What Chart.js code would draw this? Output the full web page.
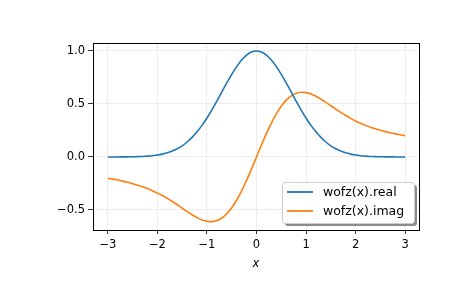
<!DOCTYPE html>
<html>
<head>
<meta charset="utf-8">
<script src="https://cdn.jsdelivr.net/npm/chart.js@4.4.1/dist/chart.umd.min.js"></script>
<style>
  html, body { margin: 0; padding: 0; background: #fff; }
  #wrap { width: 465px; height: 288px; }
</style>
</head>
<body>
<div id="wrap"><canvas id="c" width="465" height="288"></canvas></div>
<script>
// ─── Data ────────────────────────────────────────────────
const xs = [-3, -2.9, -2.8, -2.7, -2.6, -2.5, -2.4, -2.3, -2.2, -2.1, -2, -1.9, -1.8, -1.7, -1.6,
  -1.5, -1.4, -1.3, -1.2, -1.1, -1, -0.9, -0.8, -0.7, -0.6, -0.5, -0.4, -0.3, -0.2, -0.1,
  0, 0.1, 0.2, 0.3, 0.4, 0.5, 0.6, 0.7, 0.8, 0.9, 1, 1.1, 1.2, 1.3, 1.4, 1.5, 1.6, 1.7, 1.8,
  1.9, 2, 2.1, 2.2, 2.3, 2.4, 2.5, 2.6, 2.7, 2.8, 2.9, 3];
const realVals = [0.000, 0.000, 0.000, 0.001, 0.001, 0.002, 0.003, 0.005, 0.008, 0.012, 0.018,
  0.027, 0.039, 0.056, 0.077, 0.105, 0.141, 0.185, 0.237, 0.298, 0.368, 0.445, 0.527, 0.613,
  0.698, 0.779, 0.852, 0.914, 0.961, 0.990, 1.000, 0.990, 0.961, 0.914, 0.852, 0.779, 0.698,
  0.613, 0.527, 0.445, 0.368, 0.298, 0.237, 0.185, 0.141, 0.105, 0.077, 0.056, 0.039, 0.027,
  0.018, 0.012, 0.008, 0.005, 0.003, 0.002, 0.001, 0.001, 0.000, 0.000, 0.000];
const imagVals = [-0.201, -0.209, -0.218, -0.228, -0.239, -0.252, -0.266, -0.281, -0.298, -0.318,
  -0.340, -0.364, -0.391, -0.420, -0.451, -0.483, -0.515, -0.545, -0.572, -0.594, -0.607,
  -0.610, -0.600, -0.576, -0.536, -0.479, -0.406, -0.319, -0.220, -0.112, 0.000, 0.112, 0.220,
  0.319, 0.406, 0.479, 0.536, 0.576, 0.600, 0.610, 0.607, 0.594, 0.572, 0.545, 0.515, 0.483,
  0.451, 0.420, 0.391, 0.364, 0.340, 0.318, 0.298, 0.281, 0.266, 0.252, 0.239, 0.228, 0.218,
  0.209, 0.201];
const xTicks = [-3, -2, -1, 0, 1, 2, 3];
const yTicks = [-0.5, 0, 0.5, 1.0];
const seriesLabels = ['wofz(x).real', 'wofz(x).imag'];

const BLUE = '#1f77b4';
const ORANGE = '#ff7f0e';
const FONT = "'DejaVu Sans', sans-serif";

const fmt = (v, d) => (v < 0 ? '\u2212' : '') + Math.abs(v).toFixed(d);

// frame round the plot area
const framePlugin = {
  id: 'frame',
  afterDraw(chart) {
    const { ctx, chartArea: a } = chart;
    ctx.save();
    ctx.strokeStyle = '#000';
    ctx.lineWidth = 1;
    ctx.strokeRect(Math.round(a.left) + 0.5, Math.round(a.top) + 0.5,
      Math.round(a.right - a.left), Math.round(a.bottom - a.top));
    ctx.restore();
  }
};

// matplotlib-style legend in the lower right corner
const legendPlugin = {
  id: 'boxLegend',
  afterDraw(chart) {
    const { ctx, chartArea: a } = chart;
    const w = 132, h = 41;
    const x = a.right - 5 - w, y = a.bottom - 7 - h;
    ctx.save();
    ctx.fillStyle = 'rgba(0,0,0,0.45)';
    roundRect(ctx, x + 3, y + 3, w, h, 3); ctx.fill();
    ctx.fillStyle = '#fff';
    ctx.strokeStyle = '#cccccc';
    ctx.lineWidth = 1;
    roundRect(ctx, x + 0.5, y + 0.5, w, h, 3); ctx.fill(); ctx.stroke();
    ctx.font = '12.5px ' + FONT;
    ctx.textBaseline = 'middle';
    chart.data.datasets.forEach((ds, i) => {
      const ly = y + 10 + i * 19;
      ctx.strokeStyle = ds.borderColor;
      ctx.lineWidth = 1.8;
      ctx.beginPath(); ctx.moveTo(x + 5, ly); ctx.lineTo(x + 31, ly); ctx.stroke();
      ctx.fillStyle = '#000';
      ctx.fillText(ds.label, x + 41, ly + 1);
    });
    ctx.restore();
  }
};

function roundRect(ctx, x, y, w, h, r) {
  ctx.beginPath();
  ctx.moveTo(x + r, y);
  ctx.arcTo(x + w, y, x + w, y + h, r);
  ctx.arcTo(x + w, y + h, x, y + h, r);
  ctx.arcTo(x, y + h, x, y, r);
  ctx.arcTo(x, y, x + w, y, r);
  ctx.closePath();
}

const toPoints = vals => xs.map((x, i) => ({ x, y: vals[i] }));

new Chart(document.getElementById('c'), {
  type: 'line',
  data: {
    datasets: [
      { label: seriesLabels[0], data: toPoints(realVals), borderColor: BLUE, borderWidth: 1.6,
        pointRadius: 0, tension: 0.2 },
      { label: seriesLabels[1], data: toPoints(imagVals), borderColor: ORANGE, borderWidth: 1.6,
        pointRadius: 0, tension: 0.2 }
    ]
  },
  options: {
    responsive: false,
    animation: false,
    events: [],
    layout: { padding: { left: 0, right: 46, top: 43, bottom: 17 } },
    plugins: { legend: { display: false }, tooltip: { enabled: false } },
    scales: {
      x: {
        type: 'linear', min: -3.3, max: 3.28,
        afterBuildTicks: s => { s.ticks = xTicks.map(v => ({ value: v })); },
        afterFit: s => { s.height = 41; },
        grid: { color: '#e8e8e8', tickColor: '#000', tickLength: 4, lineWidth: 0.8 },
        border: { color: '#000' },
        ticks: { color: '#000', font: { family: FONT, size: 11.5 }, padding: 4,
          maxRotation: 0, callback: v => fmt(v, 0) },
        title: { display: true, text: 'x', color: '#000', padding: { top: 0, bottom: 0 },
          font: { family: FONT, size: 11.5, style: 'italic' } }
      },
      y: {
        min: -0.689, max: 1.075,
        afterBuildTicks: s => { s.ticks = yTicks.map(v => ({ value: v })); },
        afterFit: s => { s.width = 93; },
        grid: { color: '#e8e8e8', tickColor: '#000', tickLength: 5, lineWidth: 0.8 },
        border: { color: '#000' },
        ticks: { color: '#000', font: { family: FONT, size: 11.5 }, padding: 3,
          callback: v => fmt(v, 1) }
      }
    }
  },
  plugins: [framePlugin, legendPlugin]
});
</script>
</body>
</html>
